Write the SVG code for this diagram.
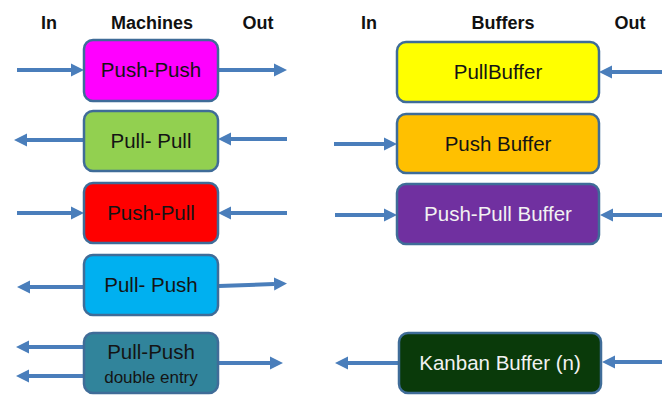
<svg xmlns="http://www.w3.org/2000/svg" width="668" height="396" viewBox="0 0 668 396">
<style>
.hdr{font-family:"Liberation Sans",Arial,sans-serif;font-weight:bold;font-size:18px;fill:#111;text-anchor:middle}
.box{stroke:#3F6C98;stroke-width:2.5}
.lbl{font-family:"Liberation Sans",Arial,sans-serif;font-size:20.5px;fill:#141414;text-anchor:middle}
.lt{fill:#f2f2f2}
.sm{font-size:17px}
.arr{stroke:#4A7EBB;stroke-width:4;fill:none;marker-end:url(#ah)}
</style>
<defs>
<marker id="ah" markerWidth="14" markerHeight="14" refX="0" refY="7" orient="auto" markerUnits="userSpaceOnUse">
<path d="M0,0.5 L13,7 L0,13.5 Z" fill="#4A7EBB"/>
</marker>
</defs>
<rect width="668" height="396" fill="#fff"/>
<g id="headers">
<text class="hdr" x="49" y="29">In</text>
<text class="hdr" x="152" y="29">Machines</text>
<text class="hdr" x="258" y="29">Out</text>
<text class="hdr" x="369" y="29">In</text>
<text class="hdr" x="503" y="29">Buffers</text>
<text class="hdr" x="630" y="29">Out</text>
</g>
<g id="connectors">
<line class="arr" x1="17" y1="70" x2="71" y2="70"/>
<line class="arr" x1="218" y1="70" x2="274" y2="70"/>
<line class="arr" x1="84" y1="140" x2="27" y2="140"/>
<line class="arr" x1="287" y1="139" x2="231" y2="139"/>
<line class="arr" x1="17" y1="213" x2="71" y2="213"/>
<line class="arr" x1="287" y1="213" x2="231" y2="213"/>
<line class="arr" x1="84" y1="287" x2="30" y2="287"/>
<line class="arr" x1="219" y1="286" x2="274" y2="284"/>
<line class="arr" x1="84" y1="347" x2="29" y2="347"/>
<line class="arr" x1="84" y1="376" x2="29" y2="376"/>
<line class="arr" x1="219" y1="363" x2="270" y2="363"/>
<line class="arr" x1="662" y1="72" x2="612" y2="72"/>
<line class="arr" x1="334" y1="144" x2="384" y2="144"/>
<line class="arr" x1="335" y1="215" x2="384" y2="215"/>
<line class="arr" x1="662" y1="215" x2="613" y2="215"/>
<line class="arr" x1="399" y1="363" x2="348" y2="363"/>
<line class="arr" x1="662" y1="362" x2="615" y2="362"/>
</g>
<g id="push-push">
<rect class="box" x="84" y="40" width="134" height="61" rx="9" fill="#FF00FF"/>
<text class="lbl" x="151" y="77">Push-Push</text>
</g>
<g id="pull-pull">
<rect class="box" x="84" y="111" width="134" height="60" rx="9" fill="#92D050"/>
<text class="lbl" x="151" y="148">Pull- Pull</text>
</g>
<g id="push-pull">
<rect class="box" x="84" y="183" width="134" height="60" rx="9" fill="#FF0000"/>
<text class="lbl" x="151" y="220">Push-Pull</text>
</g>
<g id="pull-push">
<rect class="box" x="84" y="255" width="134" height="60" rx="9" fill="#00B0F0"/>
<text class="lbl" x="151" y="292">Pull- Push</text>
</g>
<g id="pull-push-double">
<rect class="box" x="84" y="333" width="134" height="60" rx="9" fill="#31849B"/>
<text class="lbl" x="151" y="359">Pull-Push</text>
<text class="lbl sm" x="151" y="383">double entry</text>
</g>
<g id="pull-buffer">
<rect class="box" x="397" y="42" width="202" height="60" rx="9" fill="#FFFF00"/>
<text class="lbl" x="498" y="79">PullBuffer</text>
</g>
<g id="push-buffer">
<rect class="box" x="397" y="114" width="202" height="59" rx="9" fill="#FFC000"/>
<text class="lbl" x="498" y="151">Push Buffer</text>
</g>
<g id="push-pull-buffer">
<rect class="box" x="397" y="184" width="202" height="60" rx="9" fill="#7030A0"/>
<text class="lbl lt" x="498" y="221">Push-Pull Buffer</text>
</g>
<g id="kanban-buffer">
<rect class="box" x="399" y="333" width="202" height="60" rx="9" fill="#0A3A0A"/>
<text class="lbl lt" x="500" y="370">Kanban Buffer (n)</text>
</g>
</svg>
